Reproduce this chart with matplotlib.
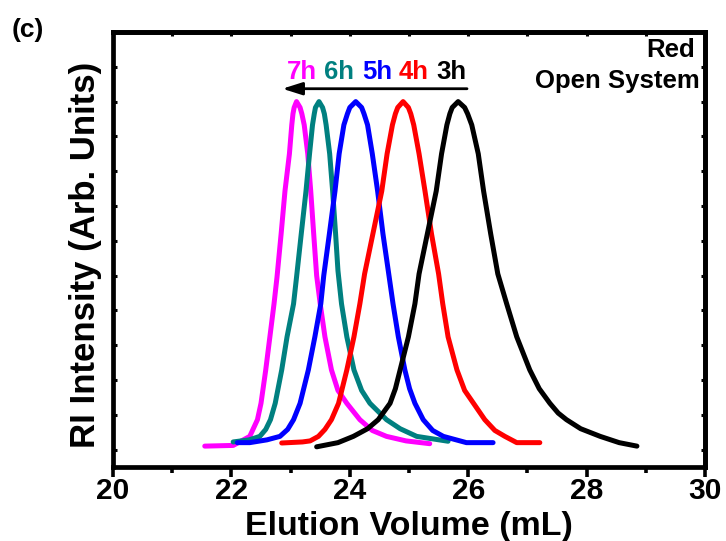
import matplotlib
matplotlib.use("Agg")
import matplotlib.pyplot as plt
from matplotlib.patches import FancyArrowPatch
from matplotlib.ticker import MultipleLocator, NullFormatter

plt.rcParams['font.family'] = ['Liberation Sans', 'DejaVu Sans']
plt.rcParams['font.weight'] = 'bold'

# ---- data ----
x3 = [23.44, 23.80, 24.06, 24.30, 24.48, 24.68, 24.77, 24.85, 24.99, 25.10, 25.17, 25.31, 25.46, 25.55, 25.64, 25.69, 25.73, 25.83, 25.94, 25.99, 26.06, 26.17, 26.26, 26.38, 26.50, 26.65, 26.82, 27.04, 27.20, 27.38, 27.52, 27.66, 27.90, 28.23, 28.55, 28.85]
y3 = [0.008, 0.02, 0.038, 0.06, 0.086, 0.133, 0.175, 0.229, 0.324, 0.419, 0.505, 0.62, 0.743, 0.85, 0.933, 0.965, 0.983, 1.0, 0.983, 0.965, 0.933, 0.85, 0.743, 0.62, 0.505, 0.419, 0.324, 0.229, 0.175, 0.133, 0.105, 0.086, 0.06, 0.038, 0.02, 0.01]

x4 = [22.85, 23.20, 23.33, 23.47, 23.58, 23.69, 23.81, 23.95, 24.07, 24.17, 24.25, 24.39, 24.54, 24.63, 24.72, 24.77, 24.81, 24.90, 24.99, 25.03, 25.08, 25.17, 25.27, 25.38, 25.50, 25.57, 25.66, 25.81, 25.94, 26.09, 26.28, 26.45, 26.62, 26.82, 27.21]
y4 = [0.019, 0.022, 0.025, 0.038, 0.058, 0.086, 0.133, 0.229, 0.324, 0.419, 0.505, 0.62, 0.743, 0.85, 0.933, 0.965, 0.983, 1.0, 0.983, 0.965, 0.933, 0.85, 0.743, 0.62, 0.505, 0.419, 0.324, 0.229, 0.17, 0.133, 0.086, 0.055, 0.038, 0.02, 0.02]

x5 = [22.10, 22.31, 22.60, 22.82, 22.95, 23.05, 23.16, 23.30, 23.41, 23.51, 23.56, 23.655, 23.75, 23.82, 23.90, 23.96, 24.00, 24.10, 24.20, 24.24, 24.30, 24.38, 24.47, 24.56, 24.65, 24.73, 24.82, 24.93, 25.01, 25.10, 25.24, 25.40, 25.58, 25.97, 26.42]
y5 = [0.02, 0.02, 0.028, 0.038, 0.058, 0.086, 0.133, 0.229, 0.324, 0.419, 0.50, 0.62, 0.743, 0.85, 0.933, 0.965, 0.983, 1.0, 0.983, 0.965, 0.933, 0.85, 0.743, 0.62, 0.514, 0.419, 0.324, 0.229, 0.175, 0.133, 0.086, 0.055, 0.038, 0.02, 0.02]

x6 = [22.03, 22.30, 22.48, 22.58, 22.66, 22.74, 22.85, 22.94, 23.05, 23.10, 23.18, 23.26, 23.32, 23.37, 23.40, 23.42, 23.48, 23.54, 23.57, 23.60, 23.66, 23.71, 23.76, 23.80, 23.86, 23.95, 24.07, 24.20, 24.34, 24.62, 24.85, 25.13, 25.66]
y6 = [0.022, 0.028, 0.038, 0.058, 0.086, 0.133, 0.229, 0.324, 0.419, 0.495, 0.62, 0.743, 0.85, 0.933, 0.965, 0.983, 1.0, 0.983, 0.965, 0.933, 0.85, 0.743, 0.62, 0.514, 0.419, 0.324, 0.229, 0.17, 0.133, 0.086, 0.06, 0.038, 0.024]

x7 = [21.55, 22.03, 22.31, 22.44, 22.50, 22.58, 22.65, 22.72, 22.77, 22.84, 22.905, 22.98, 23.02, 23.04, 23.06, 23.10, 23.16, 23.19, 23.23, 23.29, 23.34, 23.39, 23.44, 23.50, 23.58, 23.69, 23.80, 23.95, 24.17, 24.38, 24.62, 24.95, 25.35]
y7 = [0.01, 0.012, 0.038, 0.086, 0.133, 0.229, 0.324, 0.419, 0.495, 0.62, 0.743, 0.85, 0.933, 0.965, 0.983, 1.0, 0.983, 0.965, 0.933, 0.85, 0.743, 0.62, 0.50, 0.419, 0.324, 0.229, 0.17, 0.133, 0.086, 0.055, 0.038, 0.025, 0.017]

labels = ['7h', '6h', '5h', '4h', '3h']
colors = ['#FF00FF', '#008080', '#0000FF', '#FF0000', '#000000']
series = [(x7, y7), (x6, y6), (x5, y5), (x4, y4), (x3, y3)]
xticks = [20, 22, 24, 26, 28, 30]

# ---- figure ----
W, H = 726, 541
fig = plt.figure(figsize=(W / 100, H / 100), dpi=100)
L, R, T, B = 113, 705, 32, 467
ax = fig.add_axes([L / W, (H - B) / H, (R - L) / W, (B - T) / H])

for (xs, ys), c in zip(series, colors):
    ax.plot(xs, ys, color=c, lw=3.6, solid_capstyle='round', solid_joinstyle='round')

ax.set_xlim(20, 30)
ax.set_ylim(-0.05, 1.2)
ax.set_xticks(xticks)
ax.set_xticklabels([str(t) for t in xticks])
ax.xaxis.set_minor_locator(MultipleLocator(1))
ax.yaxis.set_major_locator(MultipleLocator(0.1))
ax.yaxis.set_major_formatter(NullFormatter())

for s in ax.spines.values():
    s.set_linewidth(3.4)

ax.tick_params(axis='x', which='major', direction='out', length=7, width=2.6,
               labelsize=21.5, pad=0.5)
ax.tick_params(axis='x', which='minor', direction='out', length=4, width=2.6)
ax.tick_params(axis='y', which='major', direction='in', length=3, width=2.2, left=True)
for lab in ax.get_xticklabels():
    lab.set_fontweight('bold')

secx = ax.secondary_xaxis('top')
secx.set_xticks(xticks)
secx.set_xticklabels([])
secx.xaxis.set_minor_locator(MultipleLocator(1))
secx.tick_params(axis='x', which='both', direction='in', length=3, width=2.2, labeltop=False)
secx.spines['top'].set_linewidth(3.4)

secy = ax.secondary_yaxis('right')
secy.yaxis.set_major_locator(MultipleLocator(0.1))
secy.yaxis.set_major_formatter(NullFormatter())
secy.tick_params(axis='y', which='both', direction='in', length=3, width=2.2, labelright=False)
secy.spines['right'].set_linewidth(3.4)

# curve labels
label_x = [22.94, 23.56, 24.21, 24.83, 25.47]
for t, c, xx in zip(labels, colors, label_x):
    ax.text(xx, 1.066, t, color=c, fontsize=18.5, fontweight='bold', ha='left', va='baseline')

arrow = FancyArrowPatch((25.98, 1.037), (22.86, 1.037),
                        arrowstyle='-|>,head_length=12,head_width=3.8',
                        mutation_scale=1, lw=2.0, color='black', shrinkA=0, shrinkB=0)
ax.add_patch(arrow)

ax.text(0.983, 1 - (57 - 32) / (B - T), 'Red', transform=ax.transAxes,
        fontsize=18.5, fontweight='bold', ha='right', va='baseline')
ax.text(0.991, 1 - (88 - 32) / (B - T), 'Open System', transform=ax.transAxes,
        fontsize=18.5, fontweight='bold', ha='right', va='baseline')

fig.text(409 / W, (H - 535) / H, 'Elution Volume (mL)', fontsize=24.5,
         fontweight='bold', ha='center', va='baseline')
fig.text(86 / W, 1 - 255 / H, 'RI Intensity (Arb. Units)', fontsize=25,
         fontweight='bold', ha='center', va='center', rotation=90)
fig.text(12 / W, 1 - 36.5 / H, '(c)', fontsize=19, fontweight='bold',
         ha='left', va='baseline')

fig.savefig('out.png', dpi=100)
